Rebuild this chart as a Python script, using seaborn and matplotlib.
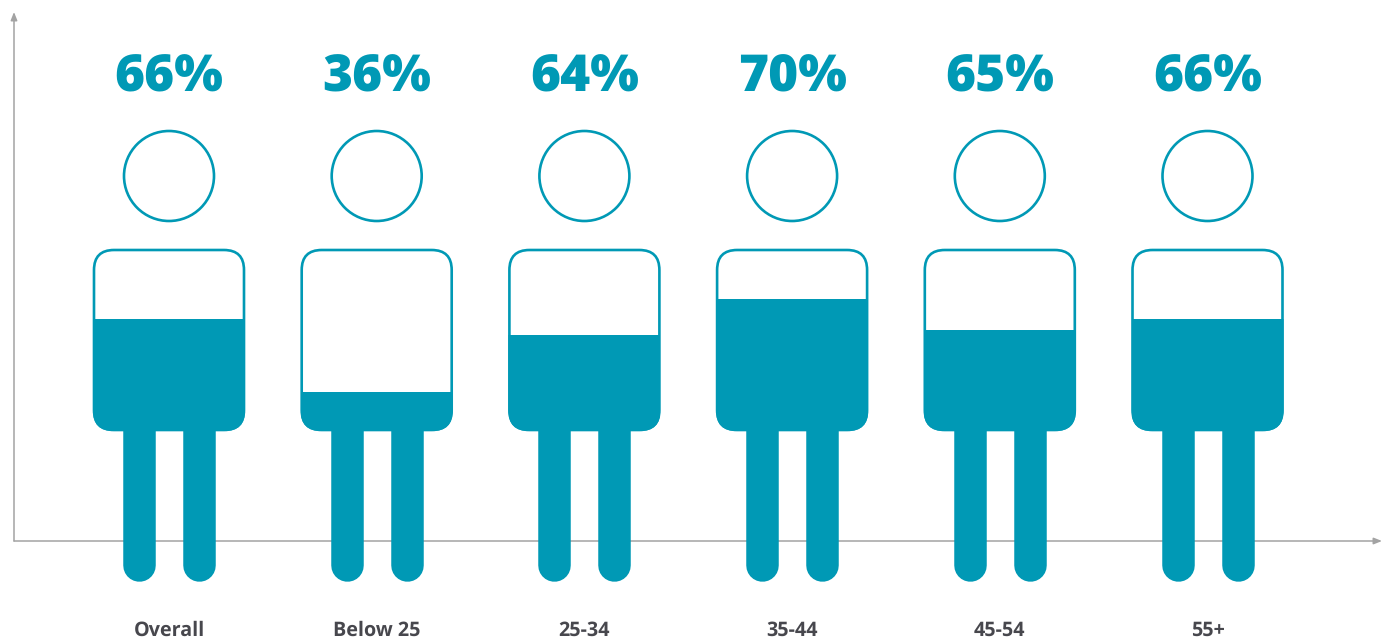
import matplotlib
matplotlib.use('Agg')
import matplotlib.pyplot as plt
import seaborn as sns
import pandas as pd
from matplotlib import font_manager as fm
from matplotlib.patches import Ellipse, FancyBboxPatch

# Share of respondents by age group
groups = ['Overall', 'Below 25', '25-34', '35-44', '45-54', '55+']
percent = [66, 36, 64, 70, 65, 66]
# How full each torso is actually drawn (does not follow the percent exactly)
fill_share = [0.62, 0.215, 0.53, 0.73, 0.558, 0.62]

teal = '#0099b5'
grey = '#a3a3a3'
dark = '#47474d'

sns.set_theme(style='white')
plt.rcParams['font.family'] = ['Open Sans', 'DejaVu Sans']
plt.rcParams['text.hinting'] = 'no_hinting'

# pick the static extra bold file directly
heavy = None
for f in fm.fontManager.ttflist:
    if f.fname.endswith('OpenSans-ExtraBold.ttf'):
        heavy = fm.FontProperties(fname=f.fname, size=37)
if heavy is None:
    heavy = fm.FontProperties(family='Open Sans', weight=800, size=37)

fig = plt.figure(figsize=(13.86, 6.4), dpi=100)
ax = fig.add_axes([0, 0, 1, 1])

# x is in categories, y in pixels above the axis line
step = 207.7
torso_w = 152
torso_h = 182
torso_base = 110

df = pd.DataFrame({'group': groups, 'fill': [s * 181 for s in fill_share]})
sns.barplot(data=df, x='group', y='fill', bottom=torso_base, width=torso_w / step,
            color=teal, saturation=1, linewidth=0, ax=ax, zorder=3)

ax.set_xlim(-169 / step, (1386 - 169) / step)
ax.set_ylim(-99, 541)

for i, bar in enumerate(ax.patches):
    x = i

    # torso outline, also used to round off the fill
    box = dict(boxstyle='round,pad=0,rounding_size=%f' % (20 / step),
               mutation_aspect=step)
    left = x - torso_w / step / 2
    clip = FancyBboxPatch((left, torso_base), torso_w / step, torso_h,
                          facecolor='none', edgecolor='none', **box)
    ax.add_patch(clip)
    bar.set_clip_path(clip)
    ax.add_patch(FancyBboxPatch((left + 1 / step, torso_base + 1), (torso_w - 2) / step, torso_h - 2,
                                facecolor='none', edgecolor=teal, linewidth=1.9, zorder=4, **box))

    # head
    ax.add_patch(Ellipse((x, 365), 90 / step, 90, facecolor='none', edgecolor=teal,
                         linewidth=1.9, zorder=4))

    # legs
    for off in (-30, 30):
        ax.plot([x + off / step, x + off / step], [torso_base + 10, -23.5], color=teal,
                linewidth=32.5 * 0.72, solid_capstyle='round', zorder=3)

    ax.text(x, 449, '%d%%' % percent[i], color=teal, fontproperties=heavy,
            ha='center', va='baseline')
    ax.text(x, -95, groups[i], color=dark, fontsize=14.2, fontweight='bold',
            ha='center', va='baseline')

# axis arrows
origin = (-155 / step, 0)
ax.annotate('', xy=(1382 / step - 169 / step, 0), xytext=origin, zorder=1,
            arrowprops=dict(arrowstyle='-|>,head_width=0.16,head_length=0.4', color=grey,
                            linewidth=1.1, shrinkA=0, shrinkB=0))
ax.annotate('', xy=(-155 / step, 529), xytext=origin, zorder=1,
            arrowprops=dict(arrowstyle='-|>,head_width=0.16,head_length=0.4', color=grey,
                            linewidth=1.1, shrinkA=0, shrinkB=0))

ax.set_xlabel('')
ax.set_ylabel('')
ax.set_xticks([])
ax.set_yticks([])
sns.despine(ax=ax, left=True, bottom=True)

fig.savefig('out.png', dpi=100, facecolor='white')
